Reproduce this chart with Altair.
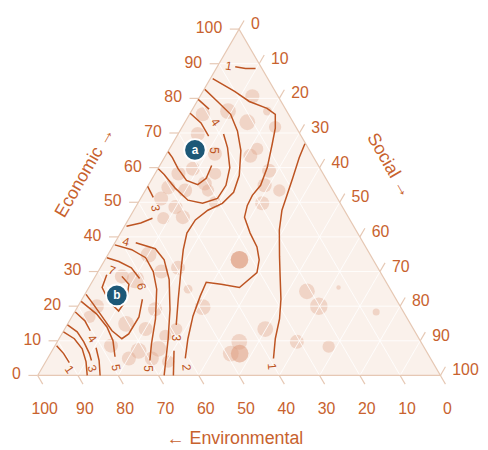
import math
import altair as alt
import pandas as pd

# ---------------- data (percentages: Economic, Social; Environmental = rest) ----------------
tick_values = list(range(0, 101, 10))

obs_economic = [80.6, 76.3, 73.1, 76.3, 71.7, 65.4, 63.4, 59.1, 54.9, 53.4, 49.7,
                75.4, 69.7, 64.0, 59.7, 58.3, 55.4, 58.3, 54.3, 53.4, 53.4, 51.1, 50.0, 48.6, 45.7, 45.4,
                33.4, 33.4, 33.4, 31.1, 24.9, 19.7, 13.4, 13.4, 9.7, 6.3, 6.3, 6.3, 9.7, 24.3, 20.0, 25.4, 18.3, 8.3,
                34.9, 27.7, 30.0, 28.6, 22.9, 20.0, 16.9, 19.1, 14.9, 13.4, 11.4, 8.6, 7.1, 7.7, 4.9, 4.9, 4.0]
obs_social = [13.0, 9.1, 15.5, 18.9, 23.1, 21.8, 21.1, 27.9, 28.9, 33.3, 30.9,
              3.3, 4.9, 12.0, 8.7, 5.8, 13.8, 14.9, 5.3, 9.9, 15.6, 5.1, 19.0, 9.9, 13.2, 8.5,
              33.4, 33.4, 33.4, 19.3, 24.9, 31.1, 27.7, 49.8, 45.2, 47.0, 47.0, 44.8, 59.5, 54.7, 59.8, 62.0, 74.9, 68.1,
              10.1, 10.4, 15.7, 6.6, 7.0, 4.7, 4.4, 19.6, 14.5, 20.1, 26.0, 13.9, 21.5, 26.1, 25.9, 20.2, 30.4]
obs_radius = [8, 9, 9, 5, 7, 7, 8, 8, 8, 7, 8,
              8, 8, 8, 8, 8, 8, 7, 8, 8, 7, 8, 7, 8, 8, 7,
              10, 10, 10, 8, 5, 9, 7, 9, 9, 10, 10, 9, 8, 9, 10, 2.5, 4, 7,
              9, 10, 8, 8, 8, 8, 7, 8, 9, 8, 7, 8, 9, 9, 8, 8, 7]

highlight_names = ["a", "b"]
highlight_economic = [65.1, 23.1]
highlight_social = [6.5, 8.1]

# contour paths (Economic, Social), split where a label sits
contour_paths = [
    ("1", [89.1, 88.6, 88.6], [4.5, 7.3, 9.8]),
    ("1", [66.9, 62.9, 57.1, 52.0, 47.7, 42.0, 34.3, 28.6, 22.0, 16.3, 10.6, 4.9],
          [32.9, 33.5, 34.8, 35.9, 36.8, 39.0, 42.9, 45.9, 49.4, 51.9, 53.7, 56.1]),
    ("1", [8.6, 6.3, 3.7], [0.4, 3.3, 6.0]),
    ("2", [85.7, 82.0, 79.1, 77.1, 75.4, 71.4, 66.9, 60.0, 54.9, 52.0, 49.1, 45.7, 41.1, 37.1, 33.4, 29.7,
           25.4, 26.3, 26.9, 22.9, 17.1, 10.6, 4.9],
          [0.6, 7.9, 13.0, 18.4, 21.3, 23.3, 24.8, 27.0, 27.9, 27.3, 27.5, 28.5, 32.2, 35.9, 38.3, 39.6,
           37.4, 32.4, 28.4, 28.9, 30.0, 32.0, 34.2]),
    ("2", [12.6, 10.6, 7.7, 4.0, 0.0], [0.1, 3.8, 7.2, 10.0, 12.3]),
    ("3", [82.6, 79.1, 75.4, 70.6, 64.9, 57.7, 52.9, 49.7, 47.7, 44.9, 41.1, 36.3, 30.6, 22.0, 14.6],
          [0.2, 5.1, 10.2, 14.3, 18.0, 21.2, 22.2, 21.0, 18.4, 16.7, 16.5, 18.0, 20.3, 23.9, 27.1]),
    ("3", [7.1, 0.0], [30.3, 33.7]),
    ("3", [54.6, 51.4], [0.0, 3.0]),
    ("3", [45.4, 44.0, 43.1], [5.8, 3.6, 0.5]),
    ("3", [14.6, 12.6, 9.7, 6.3, 4.3], [0.1, 3.5, 6.6, 9.7, 11.2]),
    ("4", [79.7, 76.9], [0.0, 4.1]),
    ("4", [69.7, 65.7, 60.0, 54.9, 51.1, 49.7, 50.6, 54.0, 58.0, 59.7],
          [11.3, 14.3, 17.7, 19.3, 19.1, 16.1, 12.0, 7.2, 2.4, 0.1]),
    ("4", [38.3, 36.6, 33.4, 27.7, 19.1, 10.6, 0.0], [5.2, 10.9, 14.7, 18.8, 23.3, 27.1, 31.4]),
    ("4", [18.3, 15.7, 12.9], [0.2, 3.9, 6.6]),
    ("4", [8.0, 4.3, 0.0], [10.5, 13.1, 15.5]),
    ("5", [75.7, 72.9, 69.1], [0.0, 4.1, 7.9]),
    ("5", [60.6, 56.9, 55.1, 56.3, 59.7, 62.9, 64.6], [12.9, 13.4, 12.2, 8.8, 5.0, 2.0, 0.1]),
    ("5", [37.7, 36.3, 34.0, 30.0, 24.9, 16.3, 9.1, 4.3], [0.3, 5.2, 9.8, 13.7, 17.1, 21.1, 23.7, 25.7]),
    ("5", [21.4, 17.7, 14.0, 10.0, 5.4], [0.1, 5.8, 10.2, 13.7, 16.5]),
    ("6", [34.0, 32.9, 31.1, 28.0], [0.2, 3.7, 7.7, 11.3]),
    ("6", [22.0, 16.9, 12.0, 10.6, 12.9, 16.9, 20.6, 23.4], [15.0, 16.7, 16.6, 15.6, 12.0, 7.6, 3.5, 0.3]),
    ("7", [28.6, 26.3, 22.0, 18.6, 21.4, 25.4, 29.1], [6.6, 9.5, 11.1, 10.8, 7.0, 3.3, 2.6]),
]

label_text = ["1", "4", "5", "3", "4", "7", "6", "4", "1", "3", "5", "5", "3", "2", "1"]
label_economic = [89.4, 73.1, 64.9, 48.3, 38.6, 30.3, 25.7, 10.6, 1.7, 2.0, 2.3, 2.0, 10.9, 2.3, 2.6]
label_social = [2.7, 7.6, 11.3, 5.1, 2.6, 3.3, 12.9, 8.2, 7.0, 12.5, 18.3, 26.5, 28.8, 35.8, 56.9]
label_angle = [10, 55, 90, 80, 15, 20, 75, 55, 55, 70, 80, 90, 90, 85, 85]

axis_titles = ["Economic \u2192", "Social \u2192", "\u2190 Environmental"]

# ---------------- styles ----------------
FONT = "Liberation Sans"
ORANGE = "#c8622e"
LINE = "#bd5422"
EDGE = "#e6c8b4"
FILL = "#faf1eb"
DOT = "#dd9c7c"
MARK = "#1d5877"


def to_xy(econ, soc):
    return soc + econ / 2.0, econ


X = alt.Scale(domain=[0, 100], nice=False, zero=False)
Y = alt.Scale(domain=[0, 100], nice=False, zero=False)


def xenc(f="x"):
    return alt.X(f"{f}:Q", scale=X, axis=None)


def yenc(f="y"):
    return alt.Y(f"{f}:Q", scale=Y, axis=None)


# triangle
tri = pd.DataFrame({"x": [0, 50, 100], "y": [0, 100, 0], "y0": [0, 0, 0]})
tri_fill = alt.Chart(tri).mark_area(color=FILL).encode(x=xenc(), y=yenc(), y2="y0:Q")
outline = pd.DataFrame({"x": [0, 50, 100, 0], "y": [0, 100, 0, 0], "o": [0, 1, 2, 3]})
tri_line = alt.Chart(outline).mark_line(color=EDGE, strokeWidth=1.2).encode(
    x=xenc(), y=yenc(), order="o:Q")

# grid
g = []
for v in tick_values[1:-1]:
    g.append((v / 2, v, 100 - v / 2, v))                  # constant Economic
    g.append((v, 0, v + (100 - v) / 2, 100 - v))          # constant Social
    g.append((100 - v, 0, (100 - v) / 2, 100 - v))        # constant Environmental
grid = pd.DataFrame(g, columns=["x", "y", "x2", "y2"])
grid_layer = alt.Chart(grid).mark_rule(color="white", strokeWidth=1, opacity=0.85).encode(
    x=xenc(), y=yenc(), x2="x2:Q", y2="y2:Q")

# ticks
t = []
for v in tick_values:
    t.append((v / 2, v, v / 2 - 2.3, v))
    t.append((50 + v / 2, 100 - v, 50 + v / 2 + 1.25, 100 - v + 2.5))
    t.append((100 - v, 0, 100 - v + 1.25, -2.5))
ticks = pd.DataFrame(t, columns=["x", "y", "x2", "y2"])
tick_layer = alt.Chart(ticks).mark_rule(color=EDGE, strokeWidth=1.2).encode(
    x=xenc(), y=yenc(), x2="x2:Q", y2="y2:Q")

left_lab = pd.DataFrame({"x": [v / 2 for v in tick_values], "y": tick_values,
                         "t": [str(v) for v in tick_values]})
right_lab = pd.DataFrame({"x": [50 + v / 2 for v in tick_values], "y": [100 - v for v in tick_values],
                          "t": [str(v) for v in tick_values]})
bottom_lab = pd.DataFrame({"x": [100 - v for v in tick_values], "y": [0] * len(tick_values),
                           "t": [str(v) for v in tick_values]})
tl = dict(font=FONT, fontSize=16, color=ORANGE, baseline="middle")
left_text = alt.Chart(left_lab).mark_text(align="right", dx=-17, dy=-1, **tl).encode(
    x=xenc(), y=yenc(), text="t:N")
right_text = alt.Chart(right_lab).mark_text(align="left", dx=12, dy=-5, **tl).encode(
    x=xenc(), y=yenc(), text="t:N")
bottom_text = alt.Chart(bottom_lab).mark_text(align="center", dx=7, dy=34, **tl).encode(
    x=xenc(), y=yenc(), text="t:N")

# axis titles, placed in the same (x, y) frame as the triangle
titles = pd.DataFrame({"x": [11.8, 87.2, 49.0], "y": [58.6, 60.6, -18.5], "t": axis_titles})
tt = dict(font=FONT, fontSize=18, color=ORANGE, baseline="middle", align="center")
title_e = alt.Chart(titles.iloc[[0]]).mark_text(angle=300, **tt).encode(
    x=xenc(), y=yenc(), text="t:N")
title_s = alt.Chart(titles.iloc[[1]]).mark_text(angle=60, **tt).encode(
    x=xenc(), y=yenc(), text="t:N")
title_v = alt.Chart(titles.iloc[[2]]).mark_text(**tt).encode(
    x=xenc(), y=yenc(), text="t:N")

# observations
obs = pd.DataFrame({"E": obs_economic, "S": obs_social, "r": obs_radius})
obs["x"], obs["y"] = to_xy(obs["E"], obs["S"])
obs["area"] = math.pi * obs["r"] ** 2
obs_layer = alt.Chart(obs).mark_circle(color=DOT, opacity=0.33).encode(
    x=xenc(), y=yenc(), size=alt.Size("area:Q", scale=None, legend=None))

# contours
rows = []
for i, (lev, es, ss) in enumerate(contour_paths):
    for j, (e, s) in enumerate(zip(es, ss)):
        x, y = to_xy(e, s)
        rows.append({"seg": i, "o": j, "level": lev, "x": x, "y": y})
cont = pd.DataFrame(rows)
cont_layer = alt.Chart(cont).mark_line(color=LINE, strokeWidth=1.5).encode(
    x=xenc(), y=yenc(), detail="seg:N", order="o:Q")

labs = pd.DataFrame({"t": label_text, "E": label_economic, "S": label_social, "a": label_angle})
labs["x"], labs["y"] = to_xy(labs["E"], labs["S"])
lab_layer = alt.Chart(labs).mark_text(font=FONT, fontSize=12, color=LINE, baseline="middle",
                                      align="center").encode(
    x=xenc(), y=yenc(), text="t:N", angle=alt.Angle("a:Q", scale=None))

# highlighted points
hl = pd.DataFrame({"n": highlight_names, "E": highlight_economic, "S": highlight_social})
hl["x"], hl["y"] = to_xy(hl["E"], hl["S"])
hl_dot = alt.Chart(hl).mark_circle(color=MARK, opacity=1, size=480, stroke="white",
                                   strokeWidth=2).encode(x=xenc(), y=yenc())
hl_txt = alt.Chart(hl).mark_text(font=FONT, fontSize=12, fontWeight="bold", color="white",
                                 baseline="middle", align="center").encode(
    x=xenc(), y=yenc(), text="n:N")

chart = alt.layer(
    tri_fill, obs_layer, grid_layer, tri_line, tick_layer, cont_layer, lab_layer,
    left_text, right_text, bottom_text, title_e, title_s, title_v, hl_dot, hl_txt,
).properties(
    width=407, height=350,
    autosize=alt.AutoSizeParams(type="none"),
    padding={"left": 30, "top": 19, "right": 40, "bottom": 70},
).configure_view(stroke=None)

chart.save("out.html", embed_options={"renderer": "svg", "actions": False})
